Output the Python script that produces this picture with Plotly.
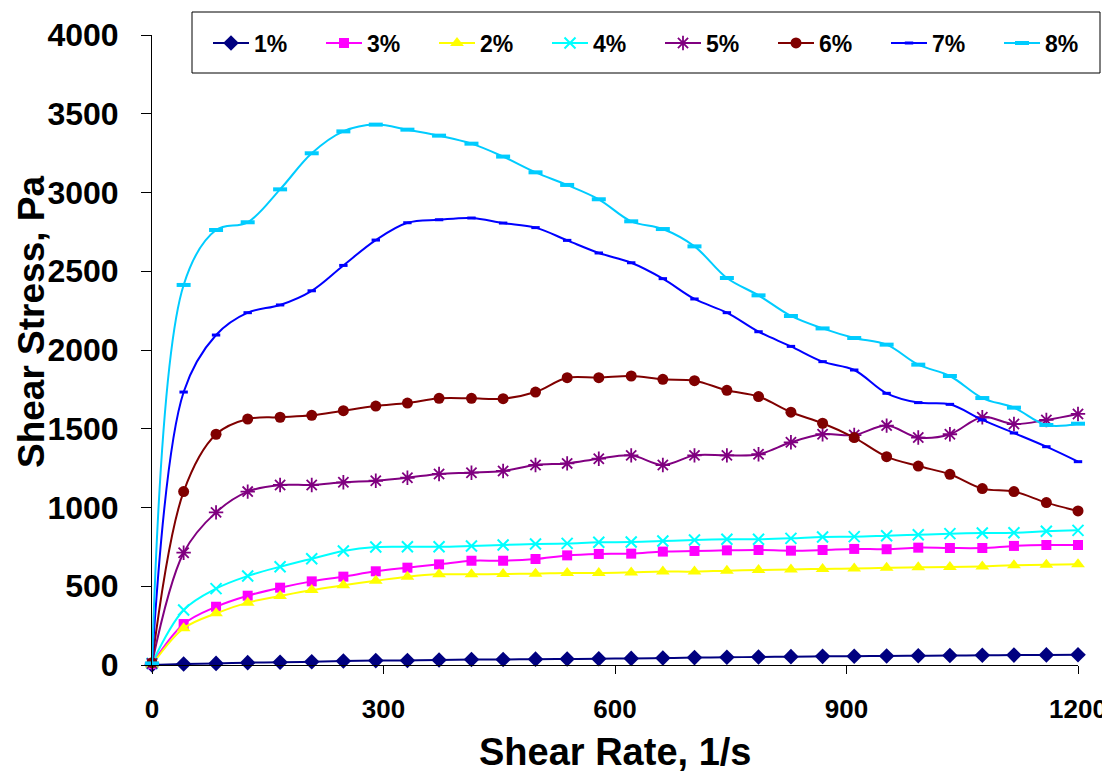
import plotly.graph_objects as go

shear_rate = [0, 41, 83, 124, 166, 207, 248, 290, 331, 372, 414, 455, 497, 538, 579,
              621, 662, 703, 745, 786, 828, 869, 910, 952, 993, 1034, 1076, 1117, 1159, 1200]

s1 = [0, 6, 10, 15, 17, 21, 25, 28, 29, 32, 35, 35, 37, 38, 40, 42, 44, 47, 49, 51,
      53, 55, 56, 57, 59, 60, 62, 63, 64, 65]
s3 = [5, 260, 370, 440, 491, 531, 561, 595, 618, 639, 662, 662, 673, 696, 705, 707,
      720, 724, 728, 730, 726, 730, 737, 735, 745, 743, 743, 756, 762, 762]
s2 = [0, 233, 328, 396, 438, 476, 506, 535, 561, 576, 576, 578, 580, 584, 584, 588,
      593, 593, 599, 603, 607, 610, 612, 618, 620, 622, 626, 633, 637, 639]
s4 = [10, 349, 485, 565, 624, 675, 724, 749, 751, 751, 756, 762, 768, 772, 779, 781,
      787, 794, 798, 798, 804, 813, 815, 821, 827, 834, 838, 840, 849, 855]
s5 = [10, 713, 969, 1101, 1143, 1143, 1160, 1170, 1189, 1213, 1221, 1232, 1270, 1280,
      1310, 1331, 1270, 1331, 1331, 1338, 1414, 1465, 1460, 1520, 1444, 1465, 1573,
      1530, 1556, 1594]
s6 = [15, 1101, 1465, 1562, 1573, 1585, 1615, 1644, 1663, 1693, 1693, 1691, 1733, 1824,
      1824, 1835, 1814, 1805, 1744, 1704, 1605, 1535, 1444, 1323, 1263, 1211, 1120,
      1101, 1031, 978]
s7 = [10, 1733, 2095, 2237, 2286, 2376, 2537, 2698, 2808, 2827, 2838, 2806, 2777, 2696,
      2616, 2554, 2453, 2324, 2237, 2116, 2023, 1926, 1873, 1725, 1666, 1655, 1556,
      1473, 1386, 1291]
s8 = [10, 2413, 2762, 2811, 3020, 3249, 3388, 3431, 3399, 3361, 3310, 3228, 3128, 3048,
      2957, 2817, 2768, 2658, 2457, 2347, 2216, 2137, 2076, 2034, 1907, 1835, 1695,
      1634, 1524, 1532]

series = [
    ("1%", s1, "#000080", "diamond", 12, 0, "legend"),
    ("3%", s3, "#FF00FF", "square", 10, 0, "legend"),
    ("2%", s2, "#FFFF00", "triangle-up", 12, 0, "legend"),
    ("4%", s4, "#00FFFF", "x-thin-open", 11, 2, "legend"),
    ("5%", s5, "#800080", "asterisk-open", 12, 1.8, "legend2"),
    ("6%", s6, "#800000", "circle", 11, 0, "legend2"),
    ("7%", s7, "#0000FF", "line-ew-open", 6, 3, "legend2"),
    ("8%", s8, "#00CCFF", "line-ew-open", 10, 4, "legend2"),
]

fig = go.Figure()
for name, vals, color, sym, size, lw, lg in series:
    fig.add_trace(go.Scatter(
        x=shear_rate, y=vals, name=name, mode="lines+markers",
        line=dict(color=color, width=2, shape="spline", smoothing=1),
        marker=dict(symbol=sym, size=size, color=color,
                    line=dict(color=color, width=lw)),
        cliponaxis=False, legend=lg,
    ))

# page body has an 8px default margin; compensate so the figure fills the window
O = 8
W, H = 1110 - O, 778 - O
L, R, T, B = 152 - O, 32, 35 - O, 113
pw, ph = W - L - R, H - T - B


def px(x):
    return (x - O - L) / pw


def py(y):
    return (H - B - (y - O)) / ph


leg_common = dict(
    orientation="h", xanchor="left", y=py(43), yanchor="middle",
    bgcolor="rgba(0,0,0,0)", borderwidth=0,
    font=dict(size=23, family="Arial", weight="bold"),
    entrywidth=62, entrywidthmode="pixels", itemwidth=36,
    traceorder="normal",
)

fig.update_layout(
    width=W, height=H,
    margin=dict(l=L, r=R, t=T, b=B, autoexpand=False),
    paper_bgcolor="white", plot_bgcolor="white",
    font=dict(family="Arial, Liberation Sans", color="black"),
    showlegend=True,
    legend=dict(x=px(208), **leg_common),
    legend2=dict(x=px(208 + 4 * 113), **leg_common),
    shapes=[dict(type="rect", xref="paper", yref="paper",
                 x0=px(192), x1=px(1100), y0=py(73), y1=py(12),
                 line=dict(color="black", width=1), fillcolor="white", layer="below")],
    xaxis=dict(
        range=[0, 1200], tickmode="array", tickvals=[0, 300, 600, 900, 1200],
        ticks="outside", ticklen=8, tickcolor="black", showline=True,
        linecolor="black", linewidth=1, showgrid=False, zeroline=False,
        tickfont=dict(size=26, weight="bold"), ticklabelstandoff=13,
        automargin=False,
    ),
    yaxis=dict(
        range=[0, 4000], tickmode="array",
        tickvals=[0, 500, 1000, 1500, 2000, 2500, 3000, 3500, 4000],
        ticks="outside", ticklen=10, tickcolor="black", showline=True,
        linecolor="black", linewidth=1, showgrid=False, zeroline=False,
        tickfont=dict(size=32, weight="bold"), ticklabelstandoff=16,
        automargin=False,
    ),
    annotations=[
        dict(text="Shear Stress, Pa", xref="paper", yref="paper",
             x=px(31), y=py(322), xanchor="center", yanchor="middle",
             textangle=-90, showarrow=False, borderpad=0,
             font=dict(size=37, weight="bold")),
        dict(text="Shear Rate, 1/s", xref="paper", yref="paper",
             x=px(615), y=py(752), xanchor="center", yanchor="middle",
             showarrow=False, borderpad=0, font=dict(size=38, weight="bold")),
    ],
)

fig.write_html("out.html")
